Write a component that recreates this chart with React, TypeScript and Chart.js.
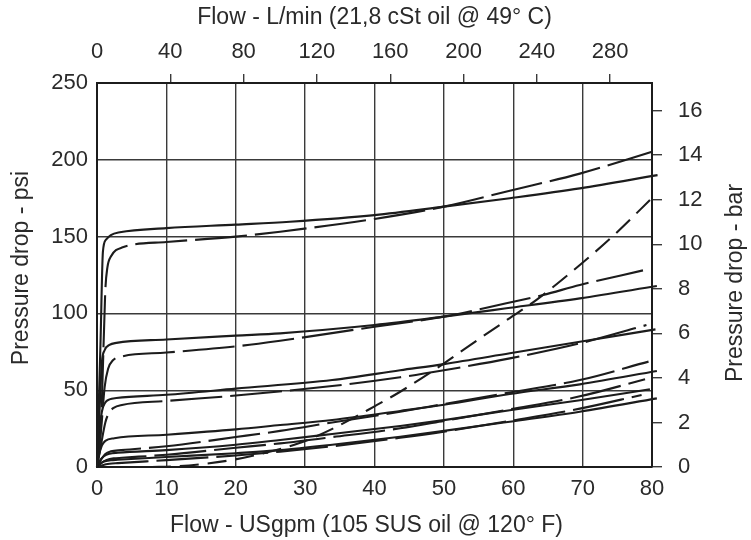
import React, { useEffect, useRef } from "react";
import { Chart, registerables } from "chart.js";

Chart.register(...registerables);

// Axis ranges / conversions
const GPM_MAX = 80;
const LPM_PER_GPM = 3.785411784;
const PSI_MAX = 250;
const PSI_PER_BAR = 14.5038;

// Axis titles
const TITLE_BOTTOM = "Flow - USgpm (105 SUS oil @ 120° F)";
const TITLE_TOP = "Flow - L/min (21,8 cSt oil @ 49° C)";
const TITLE_LEFT = "Pressure drop - psi";
const TITLE_RIGHT = "Pressure drop - bar";

// Top pair (≈150 psi setting)
const s1Flow = [0, 0.5, 0.85, 1.3, 2, 3.3, 10, 20, 27.8, 40, 50, 59.5, 69.6, 80.8];
const s1Psi = [0, 80, 140, 148, 151, 152.8, 155.5, 157.8, 159.7, 164, 169.5, 175, 181.4, 190];
const d1Flow = [0, 0.6, 1.2, 1.5, 2, 3.7, 10, 20, 26.4, 40, 50, 59.5, 69.6, 80];
const d1Psi = [0, 30, 115, 130, 137, 143, 146.5, 150, 153.2, 161.5, 169.5, 179.9, 191, 205.3];

// Second pair (≈80 psi)
const s2Flow = [0, 0.4, 0.7, 1.1, 1.8, 2.8, 10, 20, 26.4, 40, 50, 59, 69.6, 80.7];
const s2Psi = [0, 40, 68, 76, 79.5, 80.8, 83, 85.5, 87, 92.4, 97.9, 103.3, 109.8, 117.8];
const d2Flow = [0, 0.6, 1.1, 1.6, 2.3, 3.6, 10, 20, 26.4, 40, 50, 59, 64.3, 69.6, 78.7];
const d2Psi = [0, 25, 52, 64, 69.5, 72, 74.5, 78.5, 82.2, 91.3, 97.9, 106.6, 112, 118.5, 128];

// Third pair (≈45 psi)
const s3Flow = [0, 0.3, 0.7, 1.2, 1.8, 2.8, 10, 20, 33.9, 43.7, 50, 59.5, 69.6, 80.5];
const s3Psi = [0, 20, 36, 42, 44, 44.9, 47, 51, 56.6, 63, 67, 74, 81.5, 89.6];
const d3Flow = [0, 0.6, 1.2, 1.7, 2.4, 3.6, 10, 20, 33.9, 43.7, 50, 59.5, 69.6, 79.2];
const d3Psi = [0, 15, 29, 35, 38.5, 40.4, 43, 46.5, 52.7, 58.4, 63, 70.7, 80.5, 92.4];

// Fourth pair (≈18 psi)
const s4Flow = [0, 0.3, 0.7, 1.2, 2.5, 10, 20, 26.4, 33.9, 43.7, 50, 59.5, 69.6, 80.7];
const s4Psi = [0, 8, 14, 17, 18.7, 21, 24.5, 27.3, 30.6, 36.5, 40.5, 47.5, 53.8, 62.5];
const d4Flow = [0, 0.6, 1.2, 2, 3.5, 10, 20, 26.4, 33.9, 43.7, 50, 59.5, 69.6, 79.5];
const d4Psi = [0, 5, 8.5, 10.2, 11, 13.5, 19.5, 23.5, 29, 36, 41, 48.5, 56.6, 68.6];

// Fifth pair (≈9 psi)
const s5Flow = [0, 0.4, 1, 1.8, 3, 10, 20, 26.4, 33.9, 43.7, 50, 59.5, 69.6, 79.7];
const s5Psi = [0, 4, 7, 8.6, 9.3, 11, 14.5, 17.6, 21.5, 26.7, 30.5, 37, 43.5, 50.6];
const d5Flow = [0, 0.6, 1.4, 2.4, 3.6, 10, 20, 26.4, 33.9, 43.7, 50, 59.5, 69.6, 79];
const d5Psi = [0, 2.5, 4.5, 5.6, 6, 8, 12.5, 15.4, 19.5, 25.2, 30, 37.5, 46, 57.1];

// Sixth pair (≈4 psi)
const s6Flow = [0, 0.4, 1, 2, 3, 10, 20, 26.4, 33.9, 43.7, 50, 59.5, 69.6, 80.7];
const s6Psi = [0, 2, 3.6, 4.4, 4.7, 6.5, 9, 11, 14.5, 19.7, 23.5, 29.5, 36, 44.7];
const d6Flow = [0, 0.8, 1.8, 3, 10, 20, 26.4, 33.9, 43.7, 50, 59.5, 69.6, 78.5];
const d6Psi = [0, 1.2, 2.1, 2.5, 4.5, 7.5, 10, 13.5, 19, 23, 30, 38, 46.9];

// Steep short-dash curve
const bdFlow = [7.9, 11, 15, 19.5, 24, 29.3, 34, 40, 43.7, 49.7, 54, 59.5, 63.4, 69.6, 74.4, 80.2];
const bdPsi = [0, 0.3, 1.8, 4.6, 9, 15.8, 25, 39.5, 49, 66.5, 80, 97, 109, 131.5, 150.5, 176];

const INK = "#1c1c1c";
const GRID = "#3a3a3a";
const TEXT = "#2a2a2a";
const FONT = '"Liberation Sans", Arial, Helvetica, sans-serif';

const pts = (xs: number[], ys: number[]) => xs.map((x, i) => ({ x, y: ys[i] }));

type Kind = "solid" | "long" | "short";
const curves: [number[], number[], Kind][] = [
  [s1Flow, s1Psi, "solid"],
  [d1Flow, d1Psi, "long"],
  [s2Flow, s2Psi, "solid"],
  [d2Flow, d2Psi, "long"],
  [s3Flow, s3Psi, "solid"],
  [d3Flow, d3Psi, "long"],
  [s4Flow, s4Psi, "solid"],
  [d4Flow, d4Psi, "long"],
  [s5Flow, s5Psi, "solid"],
  [d5Flow, d5Psi, "long"],
  [s6Flow, s6Psi, "solid"],
  [d6Flow, d6Psi, "long"],
  [bdFlow, bdPsi, "short"],
];

// Draws the four axis titles (right one reads bottom-to-top, like the left one)
const axisTitlesPlugin = {
  id: "axisTitles",
  afterDraw(chart: any) {
    const { ctx, chartArea } = chart;
    const midY = (chartArea.top + chartArea.bottom) / 2;
    const midX = (chartArea.left + chartArea.right) / 2;
    ctx.save();
    ctx.font = `23px ${FONT}`;
    ctx.fillStyle = TEXT;
    ctx.textAlign = "center";
    ctx.textBaseline = "middle";
    ctx.fillText(TITLE_TOP, midX, 18);
    ctx.fillText(TITLE_BOTTOM, midX - 8, 526);
    ctx.save();
    ctx.translate(22, midY - 7);
    ctx.rotate(-Math.PI / 2);
    ctx.fillText(TITLE_LEFT, 0, 0);
    ctx.restore();
    ctx.save();
    ctx.translate(735.5, midY + 8);
    ctx.rotate(-Math.PI / 2);
    ctx.fillText(TITLE_RIGHT, 0, 0);
    ctx.restore();
    ctx.restore();
  },
};

export default function App() {
  const ref = useRef<HTMLCanvasElement>(null);

  useEffect(() => {
    document.body.style.margin = "0";
    if (!ref.current) return;
    const datasets = curves.map(([xs, ys, kind]) => ({
      data: pts(xs, ys),
      borderColor: INK,
      borderWidth: 2.1,
      borderDash: kind === "solid" ? [] : kind === "long" ? [52, 8] : [19, 9],
      pointRadius: 0,
      fill: false,
      cubicInterpolationMode: "monotone" as const,
      clip: false as const,
      xAxisID: "x",
      yAxisID: "y",
    }));

    const tickFont = { family: FONT, size: 22 };

    const chart = new Chart(ref.current, {
      type: "line",
      data: { datasets },
      plugins: [axisTitlesPlugin],
      options: {
        animation: false,
        responsive: true,
        maintainAspectRatio: false,
        layout: { padding: 0 },
        plugins: { legend: { display: false }, tooltip: { enabled: false } },
        scales: {
          x: {
            type: "linear",
            position: "bottom",
            min: 0,
            max: GPM_MAX,
            ticks: { stepSize: 10, color: TEXT, font: tickFont, padding: 9, maxRotation: 0 },
            grid: { color: GRID, lineWidth: 1.4, drawTicks: false },
            border: { color: INK, width: 2 },
            afterFit: (s: any) => {
              s.height = 73;
            },
          },
          x2: {
            type: "linear",
            position: "top",
            min: 0,
            max: GPM_MAX * LPM_PER_GPM,
            ticks: { stepSize: 40, includeBounds: false, color: TEXT, font: tickFont, padding: 9, maxRotation: 0 },
            grid: {
              drawOnChartArea: false,
              drawTicks: true,
              tickLength: 9,
              lineWidth: 1.4,
              color: GRID,
              tickColor: (ctx: any) => (ctx.tick && ctx.tick.value === 0 ? "rgba(0,0,0,0)" : GRID),
            },
            border: { color: INK, width: 2 },
            afterFit: (s: any) => {
              s.height = 83;
            },
          },
          y: {
            type: "linear",
            position: "left",
            min: 0,
            max: PSI_MAX,
            ticks: { stepSize: 50, color: TEXT, font: tickFont, padding: 9 },
            grid: { color: GRID, lineWidth: 1.4, drawTicks: false },
            border: { color: INK, width: 2 },
            afterFit: (s: any) => {
              s.width = 97;
            },
          },
          y2: {
            type: "linear",
            position: "right",
            min: 0,
            max: PSI_MAX / PSI_PER_BAR,
            ticks: { stepSize: 2, includeBounds: false, color: TEXT, font: tickFont, padding: 16 },
            grid: { drawOnChartArea: false, drawTicks: true, tickLength: 10, color: GRID, lineWidth: 1.4 },
            border: { color: INK, width: 2 },
            afterFit: (s: any) => {
              s.width = 99;
            },
          },
        },
      } as any,
    });
    return () => chart.destroy();
  }, []);

  return (
    <div style={{ width: 751, height: 540, position: "relative" }}>
      <canvas ref={ref} />
    </div>
  );
}
